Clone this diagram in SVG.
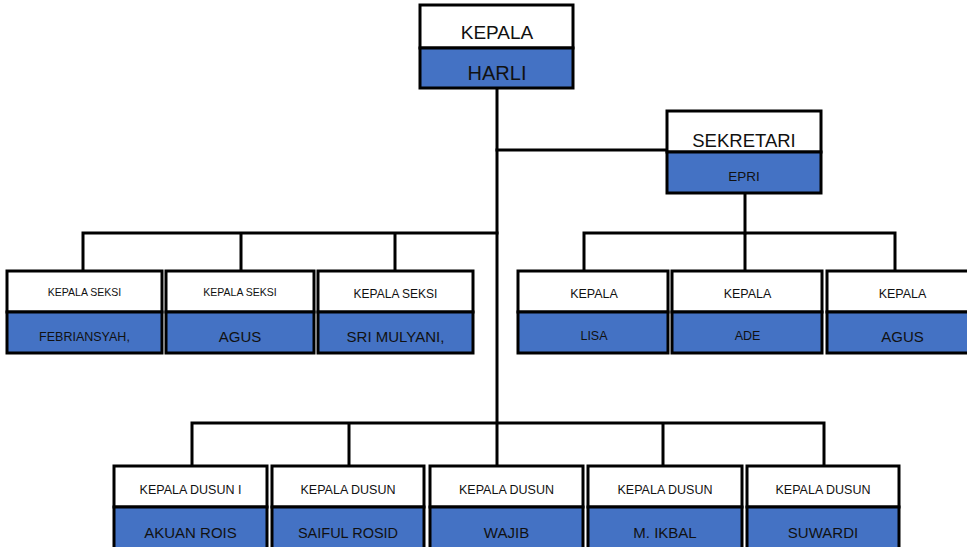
<svg xmlns="http://www.w3.org/2000/svg" width="967" height="547" viewBox="0 0 967 547">
<style>
.top{fill:#ffffff;stroke:#000;stroke-width:3}
.bot{fill:#4472C4;stroke:#000;stroke-width:3}
text{font-family:"Liberation Sans",Arial,sans-serif;fill:#111;text-anchor:middle}
.ln{stroke:#000;stroke-width:3;fill:none;stroke-linecap:square}
</style>
<rect width="967" height="547" fill="#fff"/>
<g id="connectors">
<path class="ln" d="M497 88V466"/>
<path class="ln" d="M497 150H667"/>
<path class="ln" d="M745 193V233"/>
<path class="ln" d="M83 233H497M83 233V271M241 233V271M395 233V271"/>
<path class="ln" d="M584 233H895M584 233V271M745 233V271M895 233V271"/>
<path class="ln" d="M192 423H824M192 423V466M349 423V466M663 423V466M824 423V466"/>
</g>
<g id="kepala">
<rect class="top" x="420" y="5" width="153" height="43"/>
<rect class="bot" x="420" y="48" width="153" height="40"/>
<text x="497" y="39" font-size="19">KEPALA</text>
<text x="497" y="80" font-size="20">HARLI</text>
</g>
<g id="sekretari">
<rect class="top" x="667" y="111" width="154" height="41"/>
<rect class="bot" x="667" y="152" width="154" height="41"/>
<text x="744" y="147" font-size="18.5">SEKRETARI</text>
<text x="744" y="181" font-size="13.5">EPRI</text>
</g>
<g id="seksi1">
<rect class="top" x="7" y="271" width="155" height="41"/>
<rect class="bot" x="7" y="312" width="155" height="41"/>
<text x="84.5" y="296" font-size="10.5">KEPALA SEKSI</text>
<text x="84.5" y="341" font-size="12.5">FEBRIANSYAH,</text>
</g>
<g id="seksi2">
<rect class="top" x="166" y="271" width="148" height="41"/>
<rect class="bot" x="166" y="312" width="148" height="41"/>
<text x="240" y="296" font-size="10.5">KEPALA SEKSI</text>
<text x="240" y="342" font-size="15">AGUS</text>
</g>
<g id="seksi3">
<rect class="top" x="318" y="271" width="155" height="41"/>
<rect class="bot" x="318" y="312" width="155" height="41"/>
<text x="395.5" y="298" font-size="12">KEPALA SEKSI</text>
<text x="395.5" y="342" font-size="15">SRI MULYANI,</text>
</g>
<g id="kaur1">
<rect class="top" x="518" y="271" width="150" height="41"/>
<rect class="bot" x="518" y="312" width="150" height="41"/>
<text x="594" y="298" font-size="12.5">KEPALA</text>
<text x="594" y="340" font-size="12.5">LISA</text>
</g>
<g id="kaur2">
<rect class="top" x="672" y="271" width="150" height="41"/>
<rect class="bot" x="672" y="312" width="150" height="41"/>
<text x="747.5" y="298" font-size="12.5">KEPALA</text>
<text x="747.5" y="340" font-size="12.5">ADE</text>
</g>
<g id="kaur3">
<rect class="top" x="827" y="271" width="155" height="41"/>
<rect class="bot" x="827" y="312" width="155" height="41"/>
<text x="902.5" y="298" font-size="12.5">KEPALA</text>
<text x="902.5" y="342" font-size="15">AGUS</text>
</g>
<g id="dusun1">
<rect class="top" x="114" y="466" width="153" height="41"/>
<rect class="bot" x="114" y="507" width="153" height="50"/>
<text x="190.5" y="494" font-size="12.5">KEPALA DUSUN I</text>
<text x="190.5" y="538" font-size="15">AKUAN ROIS</text>
</g>
<g id="dusun2">
<rect class="top" x="272" y="466" width="152" height="41"/>
<rect class="bot" x="272" y="507" width="152" height="50"/>
<text x="348" y="494" font-size="12.5">KEPALA DUSUN</text>
<text x="348" y="538" font-size="14.5">SAIFUL ROSID</text>
</g>
<g id="dusun3">
<rect class="top" x="430" y="466" width="153" height="41"/>
<rect class="bot" x="430" y="507" width="153" height="50"/>
<text x="506.5" y="494" font-size="12.5">KEPALA DUSUN</text>
<text x="506.5" y="538" font-size="15">WAJIB</text>
</g>
<g id="dusun4">
<rect class="top" x="588" y="466" width="154" height="41"/>
<rect class="bot" x="588" y="507" width="154" height="50"/>
<text x="665" y="494" font-size="12.5">KEPALA DUSUN</text>
<text x="665" y="538" font-size="15">M. IKBAL</text>
</g>
<g id="dusun5">
<rect class="top" x="747" y="466" width="152" height="41"/>
<rect class="bot" x="747" y="507" width="152" height="50"/>
<text x="823" y="494" font-size="12.5">KEPALA DUSUN</text>
<text x="823" y="538" font-size="15">SUWARDI</text>
</g>
</svg>
